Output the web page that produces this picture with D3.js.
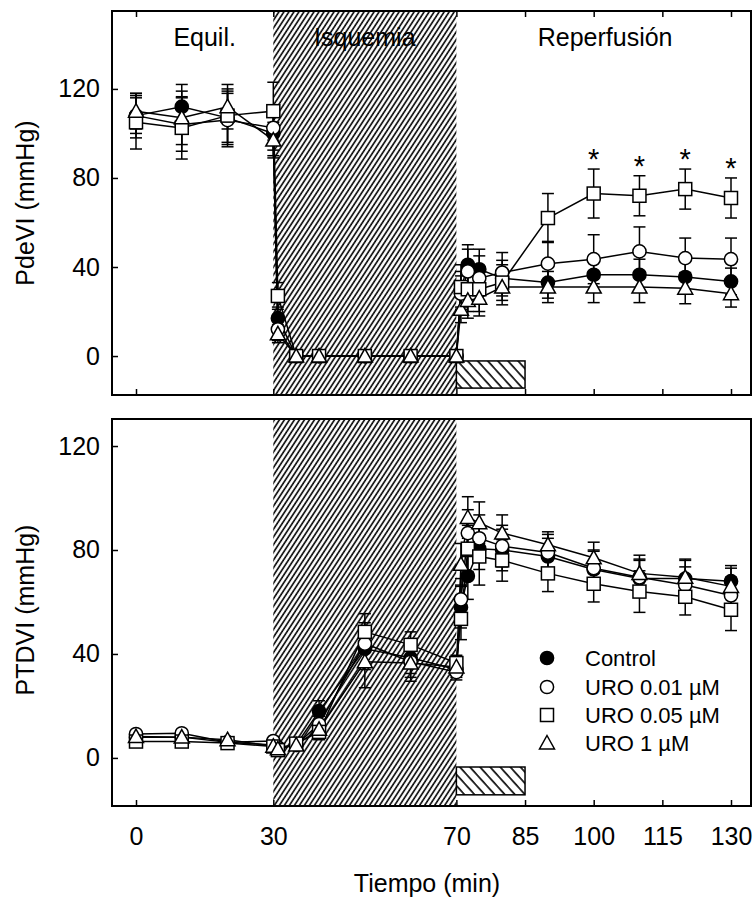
<!DOCTYPE html>
<html><head><meta charset="utf-8">
<script src="https://cdn.jsdelivr.net/npm/d3@7"></script>
<style>
body{margin:0;background:#fff}
svg{display:block}
text{font-family:"Liberation Sans",Arial,sans-serif;fill:#000}
</style>
</head><body>
<svg id="chart" width="753" height="899"></svg>
<script>
// ---------------- DATA ----------------
const times = [0,10,20,30,31,35,40,50,60,70,71,72.5,75,80,90,100,110,120,130];
const seriesNames = ["Control","URO 0.01 µM","URO 0.05 µM","URO 1 µM"];
const seriesSymbols = ["filledCircle","circle","square","triangle"];

// PdeVI (mmHg), mean
const pdeviControl = [108,112,107,100,17,0,0,0,0,0,30,41,39,35,33,36.5,36.5,35.5,33.5];
const pdeviUro001  = [108,104,106,102.5,12,0,0,0,0,0,28,38,35,37.5,41.5,43.5,47,44,43.5];
const pdeviUro005  = [105,102.5,108,110,27,0,0,0,0,0,31,30,30,33,62,73,72,75,71];
const pdeviUro1    = [110,107,112,97,10,0,0,0,0,0,21,25,26,31,31,31,31,30.5,28];
// PdeVI SE
const pdeviControlSE = [8,10,12,10,5,0,0,0,0,0,8,9,9,8,7,7,7,7,6];
const pdeviUro001SE  = [10,12,12,10,5,0,0,0,0,0,8,10,10,9,10,11,11,9,9.5];
const pdeviUro005SE  = [12,14,12,13,6,0,0,0,0,0,10,10,10,8,11,11,9,9,9];
const pdeviUro1SE    = [8,12,10,8,4,0,0,0,0,0,6,8,8,8,7,7,7,7,6];

// PTDVI (mmHg), mean
const ptdviControl = [8,8,6,5,4,5,18,42,38.5,34,58,70,80.5,80,77.5,72.5,69,69,68];
const ptdviUro001  = [9.2,9.5,6,6.5,4,5,13,44,37,33,61,86.5,84.5,81.5,79,73,69.5,66.5,62.5];
const ptdviUro005  = [6.3,6.3,5.7,4.4,3,5.5,10,48.5,43.5,36.5,53.5,80.5,77.5,76,71,67,64,62,57];
const ptdviUro1    = [8.2,8,7,4.5,3.5,5,11,37,36.5,35,74.5,92.5,90.5,86.5,82,77,71,69.5,66];
// PTDVI SE
const ptdviControlSE = [1,1,1,1,1,1,4,8,6,3,8,9,8,8,7,7,7,7,6];
const ptdviUro001SE  = [1,1,1,1,1,1,3,8,6,3,8,9,9,8,7,7,7,7,7];
const ptdviUro005SE  = [1,1,1,1,1,1,3,7,5,3,8,9,11,8,7,7,8,7,8];
const ptdviUro1SE    = [1,1,1,1,1,1,3,10,7,3,8,8,8,7,5,6,7,7,7];

const xTicks = [0,30,70,85,100,115,130];
const yTicks = [0,40,80,120];
const phaseLabels = ["Equil.","Isquemia","Reperfusión"];
const phaseLabelTimes = [15,50,102.5];
const ischemiaSpan = [30,70];
const reperfusionSpan = [70,85];
const asteriskTimes = [100,110,120,130];
const xTitle = "Tiempo (min)";

// ---------------- LAYOUT ----------------
const svg = d3.select("#chart");
const frameLeft = 112, frameRight = 751;
const x = d3.scaleLinear().domain([0,130]).range([136,731]);

const defs = svg.append("defs");
const p1 = defs.append("pattern").attr("id","hatchIsch").attr("patternUnits","userSpaceOnUse")
  .attr("width",4.2).attr("height",10).attr("patternTransform","rotate(33)");
p1.append("rect").attr("width",4.2).attr("height",10).attr("fill","#fff");
p1.append("line").attr("x1",1).attr("x2",1).attr("y1",0).attr("y2",10).attr("stroke","#000").attr("stroke-width",1.6);
const p2 = defs.append("pattern").attr("id","hatchRep").attr("patternUnits","userSpaceOnUse")
  .attr("width",7.5).attr("height",10).attr("patternTransform","rotate(-42)");
p2.append("rect").attr("width",7.5).attr("height",10).attr("fill","#fff");
p2.append("line").attr("x1",1).attr("x2",1).attr("y1",0).attr("y2",10).attr("stroke","#000").attr("stroke-width",1.6);

const panels = [
  {top:11, bottom:395, domain:[-17.5,155], title:"PdeVI (mmHg)", titleY:203,
   means:[pdeviControl,pdeviUro001,pdeviUro005,pdeviUro1],
   ses:[pdeviControlSE,pdeviUro001SE,pdeviUro005SE,pdeviUro1SE],
   box:[-2.2,-14.4], xLabels:false, topTicks:true, phase:true, stars:true, legend:false},
  {top:419, bottom:806, domain:[-18.5,130.4], title:"PTDVI (mmHg)", titleY:610,
   means:[ptdviControl,ptdviUro001,ptdviUro005,ptdviUro1],
   ses:[ptdviControlSE,ptdviUro001SE,ptdviUro005SE,ptdviUro1SE],
   box:[-3.5,-14.2], xLabels:true, topTicks:false, phase:false, stars:false, legend:true}
];

function drawSymbol(g, type, cx, cy){
  if(type==="filledCircle"||type==="circle"){
    g.append("circle").attr("cx",cx).attr("cy",cy).attr("r",6.6)
     .attr("fill",type==="filledCircle"?"#000":"#fff").attr("stroke","#000").attr("stroke-width",1.5);
  } else if(type==="square"){
    g.append("rect").attr("x",cx-6.5).attr("y",cy-6.5).attr("width",13).attr("height",13)
     .attr("fill","#fff").attr("stroke","#000").attr("stroke-width",1.5);
  } else {
    g.append("path").attr("d",`M${cx},${cy-7.5}L${cx+7.5},${cy+6}L${cx-7.5},${cy+6}Z`)
     .attr("fill","#fff").attr("stroke","#000").attr("stroke-width",1.5);
  }
}

panels.forEach(p=>{
  const y = d3.scaleLinear().domain(p.domain).range([p.bottom,p.top]);
  const g = svg.append("g");
  g.append("rect").attr("x",frameLeft).attr("y",p.top).attr("width",frameRight-frameLeft)
    .attr("height",p.bottom-p.top).attr("fill","#fff");
  // ischemia hatch
  g.append("rect").attr("x",x(ischemiaSpan[0])).attr("y",p.top)
    .attr("width",x(ischemiaSpan[1])-x(ischemiaSpan[0])).attr("height",p.bottom-p.top)
    .attr("fill","url(#hatchIsch)");
  // reperfusion box
  g.append("rect").attr("x",x(reperfusionSpan[0])).attr("y",y(p.box[0]))
    .attr("width",x(reperfusionSpan[1])-x(reperfusionSpan[0])).attr("height",y(p.box[1])-y(p.box[0]))
    .attr("fill","url(#hatchRep)").attr("stroke","#000").attr("stroke-width",1.5);

  // phase labels
  if(p.phase){
    phaseLabels.forEach((t,i)=>{
      g.append("text").attr("x",x(phaseLabelTimes[i])).attr("y",46).attr("text-anchor","middle")
        .attr("font-size",25).text(t);
    });
  }

  const line = d3.line().x((d,i)=>x(times[i])).y(d=>y(d));
  p.means.forEach(m=>{
    g.append("path").attr("d",line(m)).attr("fill","none").attr("stroke","#000").attr("stroke-width",1.5);
  });
  // error bars
  p.means.forEach((m,s)=>{
    m.forEach((v,i)=>{
      const e = p.ses[s][i];
      if(!e) return;
      const cx = x(times[i]);
      g.append("line").attr("x1",cx).attr("x2",cx).attr("y1",y(v-e)).attr("y2",y(v+e))
        .attr("stroke","#000").attr("stroke-width",1.5);
      [v-e,v+e].forEach(w=>{
        g.append("line").attr("x1",cx-6).attr("x2",cx+6).attr("y1",y(w)).attr("y2",y(w))
          .attr("stroke","#000").attr("stroke-width",1.5);
      });
    });
  });
  // markers
  p.means.forEach((m,s)=>{
    m.forEach((v,i)=> drawSymbol(g, seriesSymbols[s], x(times[i]), y(v)));
  });

  // asterisks
  if(p.stars){
    asteriskTimes.forEach(t=>{
      const i = times.indexOf(t);
      const top = p.means[2][i] + p.ses[2][i];
      g.append("text").attr("x",x(t)).attr("y",y(top)-18).attr("dy","0.62em")
        .attr("text-anchor","middle").attr("font-size",29).text("*");
    });
  }

  // axes
  const ya = d3.axisLeft(y).tickValues(yTicks).tickSizeInner(-6).tickSizeOuter(0).tickPadding(12);
  const yg = g.append("g").attr("transform",`translate(${frameLeft},0)`).call(ya);
  yg.select(".domain").remove();
  yg.selectAll("text").attr("font-size",25).style("font-family","'Liberation Sans',Arial,sans-serif");
  yg.selectAll("line").attr("stroke-width",1.5);

  const xa = d3.axisBottom(x).tickValues(xTicks).tickSizeInner(-6).tickSizeOuter(0).tickPadding(21);
  const xg = g.append("g").attr("transform",`translate(0,${p.bottom})`).call(xa);
  xg.select(".domain").remove();
  xg.selectAll("line").attr("stroke-width",1.5);
  if(p.xLabels){
    xg.selectAll("text").attr("font-size",25).style("font-family","'Liberation Sans',Arial,sans-serif");
  } else {
    xg.selectAll("text").remove();
  }
  if(p.topTicks){
    const xt = d3.axisTop(x).tickValues(xTicks).tickSizeInner(-6).tickSizeOuter(0).tickFormat("");
    const xtg = g.append("g").attr("transform",`translate(0,${p.top})`).call(xt);
    xtg.select(".domain").remove();
    xtg.selectAll("line").attr("stroke-width",1.5);
  }

  // frame
  g.append("rect").attr("x",frameLeft).attr("y",p.top).attr("width",frameRight-frameLeft)
    .attr("height",p.bottom-p.top).attr("fill","none").attr("stroke","#000").attr("stroke-width",2);

  // y title
  g.append("text").attr("transform",`translate(34,${p.titleY}) rotate(-90)`)
    .attr("text-anchor","middle").attr("font-size",25).text(p.title);

  // legend
  if(p.legend){
    const rowY = [658,687,715,743];
    seriesNames.forEach((n,i)=>{
      drawSymbol(g, seriesSymbols[i], 547, rowY[i]);
      g.append("text").attr("x",585).attr("y",rowY[i]).attr("dy","0.35em")
        .attr("font-size",22).text(n);
    });
  }
});

svg.append("text").attr("x",427).attr("y",892).attr("text-anchor","middle")
  .attr("font-size",25).text(xTitle);
</script>
</body></html>
